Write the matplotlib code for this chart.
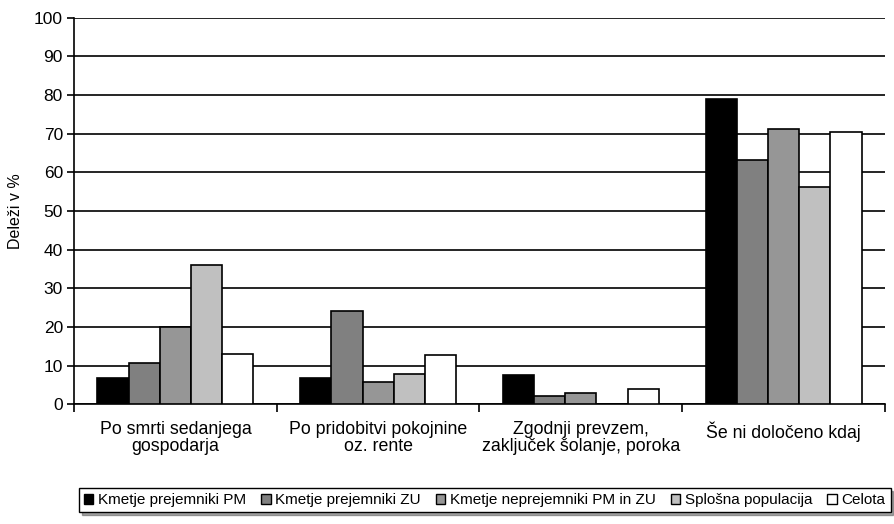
import matplotlib
matplotlib.use("Agg")
import matplotlib.pyplot as plt
import numpy as np

plt.rcParams['font.family'] = ['Liberation Sans', 'DejaVu Sans']

categories = ["Po smrti sedanjega\ngospodarja",
              "Po pridobitvi pokojnine\noz. rente",
              "Zgodnji prevzem,\nzaključek šolanje, poroka",
              "Še ni določeno kdaj"]
series_names = ["Kmetje prejemniki PM", "Kmetje prejemniki ZU",
                "Kmetje neprejemniki PM in ZU", "Splošna populacija", "Celota"]
pm = [6.9, 6.9, 7.6, 78.9]
zu = [10.6, 24.1, 2.1, 63.2]
nepm = [20.1, 5.8, 2.9, 71.2]
splosna = [36.1, 8.0, 0.0, 56.1]
celota = [13.1, 12.7, 4.1, 70.4]
series = [pm, zu, nepm, splosna, celota]
colors = ["#000000", "#808080", "#969696", "#C0C0C0", "#FFFFFF"]
yticks = list(range(0, 101, 10))

fig = plt.figure(figsize=(8.95, 5.24), dpi=100)
ax = fig.add_axes([0.0827, 0.2281, 0.9061, 0.7385])

n = len(series)
bw = 0.154
x = np.arange(len(categories))
for i, (vals, c, name) in enumerate(zip(series, colors, series_names)):
    offs = (i - (n - 1) / 2) * bw
    ax.bar(x + offs, vals, width=bw, color=c, edgecolor="black", linewidth=1.2,
           label=name, zorder=3)

ax.set_xlim(-0.5, len(categories) - 0.5)
ax.set_ylim(0, 100)
ax.set_yticks(yticks)
ax.set_yticklabels([str(t) for t in yticks], fontsize=12.5)
ax.yaxis.grid(True, color="black", linewidth=1.2, zorder=0)
ax.set_axisbelow(True)
for s in ["top", "right"]:
    ax.spines[s].set_visible(False)
ax.spines["left"].set_linewidth(1.2)
ax.spines["bottom"].set_linewidth(1.2)
ax.tick_params(axis="y", direction="out", length=5, width=1.2, pad=3)

# separator ticks at category boundaries, labels placed as text
ax.set_xticks(np.arange(-0.5, len(categories), 1.0))
ax.set_xticklabels([""] * (len(categories) + 1))
ax.tick_params(axis="x", direction="out", length=6, width=1.2)
for xi, lab in zip(x, categories):
    ax.text(xi, -4.3, lab, ha="center", va="top", fontsize=12.8,
            transform=ax.transData, linespacing=1.0)

ax.set_ylabel("Deleži v %", fontsize=11.5, labelpad=8)

leg = fig.legend(loc="lower right", bbox_to_anchor=(0.995, 0.022), ncol=5,
                 fontsize=11, frameon=True, fancybox=False, shadow=True,
                 handlelength=0.6, handleheight=0.6, handletextpad=0.3,
                 columnspacing=1.0, borderpad=0.35, borderaxespad=0.0,
                 edgecolor="black")
leg.get_frame().set_linewidth(1.0)
for h in leg.legend_handles:
    h.set_linewidth(1.0)

fig.savefig("out.png", dpi=100)
